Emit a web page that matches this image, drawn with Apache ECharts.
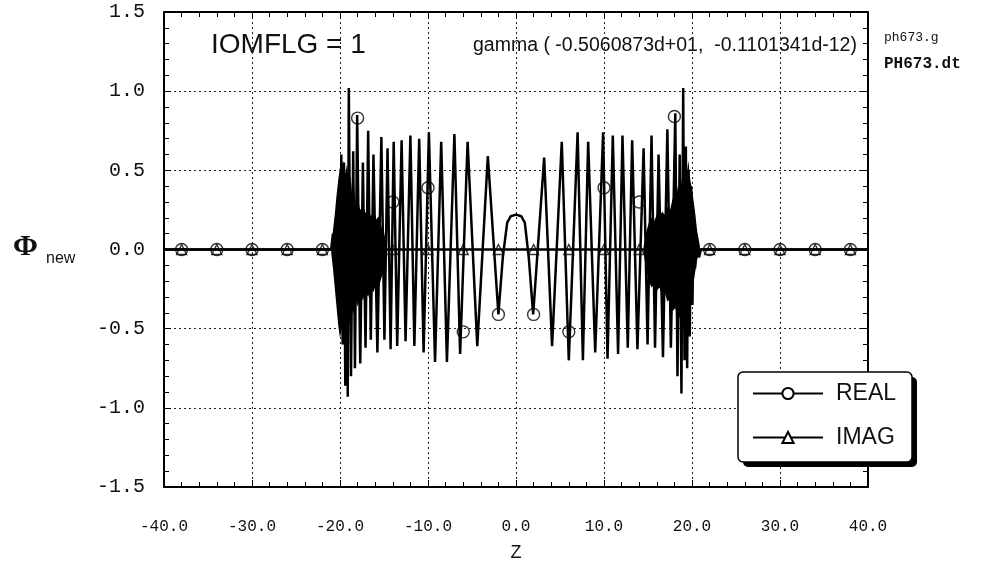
<!DOCTYPE html>
<html><head><meta charset="utf-8">
<script src="https://cdn.jsdelivr.net/npm/echarts@6/dist/echarts.min.js"></script>
<style>html,body{margin:0;padding:0;background:#fff}#c{width:1000px;height:568px}</style>
</head><body><div id="c"></div>
<script>
// ---- axis ticks ----
const xTicks = [-40, -30, -20, -10, 0, 10, 20, 30, 40];
const yTicks = [-1.5, -1.0, -0.5, 0.0, 0.5, 1.0, 1.5];

// ---- REAL curve (z, value) ----
const realZ = [-40, -21.0, -20.8, -20.6, -20.45, -20.3, -20.15, -20.0, -19.85, -19.7, -19.55, -19.4, -19.25, -19.12, -19.0,
  -18.75, -18.5, -18.3, -18.05, -17.7, -17.4, -17.1, -16.8, -16.5, -16.2, -15.75, -15.3, -14.95, -14.6, -14.25,
  -13.9, -13.5, -13.0, -12.55, -12.0, -11.55, -11.0, -10.5, -9.9, -9.2, -8.5, -7.85, -7.0, -6.35, -5.5, -4.4,
  -3.2, -2.0, -1.5, -1.0, -0.6, 0.0, 0.6, 1.0, 1.45, 1.95, 3.2, 4.1, 5.2, 6.0, 7.0, 7.6, 8.2, 9.0, 9.9, 10.4,
  11.0, 11.6, 12.1, 12.7, 13.2, 13.8, 14.5, 14.95, 15.4, 15.8, 16.2, 16.7, 17.2, 17.6, 18.1, 18.35, 18.6, 18.8,
  19.0, 19.15, 19.3, 19.45, 19.6, 19.75, 19.9, 20.05, 20.2, 20.35, 20.5, 20.8, 21.0, 40];
const realV = [0.0, 0.0, 0.1, -0.12, 0.2, -0.3, 0.35, -0.45, 0.6, -0.6, 0.55, -0.86, 0.45, -0.93, 1.02,
  -0.8, 0.62, -0.75, 0.85, -0.72, 0.55, -0.62, 0.75, -0.57, 0.6, -0.65, 0.71, -0.57, 0.64, -0.63,
  0.68, -0.61, 0.69, -0.58, 0.72, -0.61, 0.70, -0.65, 0.74, -0.71, 0.68, -0.71, 0.73, -0.66, 0.68, -0.61,
  0.59, -0.41, -0.05, 0.17, 0.21, 0.22, 0.21, 0.17, -0.05, -0.41, 0.58, -0.61, 0.68, -0.70, 0.74, -0.70, 0.68, -0.65, 0.74, -0.69,
  0.72, -0.66, 0.72, -0.62, 0.69, -0.63, 0.64, -0.6, 0.72, -0.62, 0.6, -0.68, 0.76, -0.62, 0.86, -0.8, 0.6, -0.91,
  1.02, -0.7, 0.65, -0.75, 0.5, -0.55, 0.4, -0.35, 0.25, -0.12, 0.1, -0.05, 0.0, 0.0];

// ---- IMAG curve ----
const imagZ = [-40, 40];
const imagV = [0.0, 0.0];

// ---- marker positions ----
const markerZ = [-38, -34, -30, -26, -22, -18, -14, -10, -6, -2, 2, 6, 10, 14, 18, 22, 26, 30, 34, 38];
const realMarkV = [0, 0, 0, 0, 0, 0.83, 0.30, 0.39, -0.52, -0.41, -0.41, -0.52, 0.39, 0.30, 0.84, 0, 0, 0, 0, 0];
const imagMarkV = [0, 0, 0, 0, 0, 0, 0, 0, 0, 0, 0, 0, 0, 0, 0, 0, 0, 0, 0, 0];

// ---- envelopes of the unresolved fast oscillation (solid black zones) ----
const bandLZ  = [-21.0, -20.8, -20.6, -20.4, -20.2, -20.0, -19.8, -19.6, -19.4, -19.2, -19.0, -18.8, -18.6, -18.4, -18.2,
  -18.0, -17.7, -17.4, -17.1, -16.8, -16.5, -16.2, -15.9, -15.6, -15.3, -15.0, -14.7];
const bandLUp = [0.02, 0.12, 0.22, 0.34, 0.44, 0.52, 0.46, 0.56, 0.48, 0.54, 0.42, 0.46, 0.34, 0.38, 0.28,
  0.32, 0.25, 0.28, 0.23, 0.26, 0.21, 0.24, 0.19, 0.21, 0.15, 0.11, 0.02];
const bandLLo = [-0.02, -0.12, -0.24, -0.36, -0.48, -0.56, -0.50, -0.58, -0.50, -0.55, -0.45, -0.48, -0.38, -0.41, -0.32,
  -0.36, -0.29, -0.32, -0.27, -0.30, -0.25, -0.27, -0.22, -0.24, -0.18, -0.13, -0.02];
const bandRZ  = [14.5, 14.8, 15.1, 15.4, 15.7, 16.0, 16.3, 16.6, 16.9, 17.2, 17.5, 17.8, 18.1, 18.4, 18.7,
  19.0, 19.2, 19.4, 19.6, 19.8, 20.0, 20.2, 20.4, 20.6, 20.9];
const bandRUp = [0.02, 0.11, 0.17, 0.20, 0.18, 0.22, 0.20, 0.24, 0.22, 0.27, 0.25, 0.32, 0.30, 0.40, 0.38,
  0.50, 0.55, 0.48, 0.56, 0.44, 0.38, 0.30, 0.21, 0.11, 0.02];
const bandRLo = [-0.02, -0.13, -0.20, -0.24, -0.22, -0.26, -0.24, -0.29, -0.27, -0.33, -0.31, -0.39, -0.37, -0.44, -0.42,
  -0.50, -0.46, -0.42, -0.38, -0.34, -0.28, -0.20, -0.13, -0.06, -0.02];

const zip = (a, b) => a.map((v, i) => [v, b[i]]);

function bandSeries(zs, up, lo) {
  return {
    type: 'custom', coordinateSystem: 'cartesian2d', silent: true, z: 2,
    data: [[zs[0], up[0]]],
    renderItem: function (params, api) {
      const pts = [];
      for (let i = 0; i < zs.length; i++) pts.push(api.coord([zs[i], up[i]]));
      for (let i = zs.length - 1; i >= 0; i--) pts.push(api.coord([zs[i], lo[i]]));
      return { type: 'polygon', shape: { points: pts }, style: { fill: '#000' } };
    }
  };
}

const monoFont = '"Liberation Mono", "DejaVu Sans Mono", monospace';
const sansFont = '"Liberation Sans", Arial, sans-serif';
const splitStyle = { show: true, lineStyle: { color: '#222', width: 1, type: [2, 3] } };
const tickCfg = { show: true, inside: true, length: 7, lineStyle: { color: '#000', width: 1 } };
const minorCfg = { show: true, splitNumber: 5, length: 5, lineStyle: { color: '#000', width: 1 } };
const lineCfg = { show: true, onZero: false, lineStyle: { color: '#000', width: 2 } };

const chart = echarts.init(document.getElementById('c'), null, { renderer: 'canvas' });
chart.setOption({
  animation: false,
  backgroundColor: '#fff',
  grid: { left: 164, right: 132, top: 12, bottom: 81, containLabel: false },
  xAxis: [{
    type: 'value', min: xTicks[0], max: xTicks[xTicks.length - 1], interval: xTicks[1] - xTicks[0],
    position: 'bottom', axisLine: lineCfg, axisTick: tickCfg, minorTick: minorCfg,
    axisLabel: { margin: 32, fontFamily: monoFont, fontSize: 16, color: '#111', formatter: v => v.toFixed(1) },
    splitLine: splitStyle,
    name: 'Z', nameLocation: 'middle', nameGap: 57,
    nameTextStyle: { fontFamily: sansFont, fontSize: 18, color: '#111' }
  }, {
    type: 'value', min: xTicks[0], max: xTicks[xTicks.length - 1], interval: xTicks[1] - xTicks[0],
    position: 'top', axisLine: lineCfg, axisTick: tickCfg, minorTick: minorCfg,
    axisLabel: { show: false }, splitLine: { show: false }
  }],
  yAxis: [{
    type: 'value', min: yTicks[0], max: yTicks[yTicks.length - 1], interval: yTicks[1] - yTicks[0],
    position: 'left', axisLine: lineCfg, axisTick: tickCfg, minorTick: minorCfg,
    axisLabel: { margin: 19, fontFamily: monoFont, fontSize: 20, color: '#111', formatter: v => v.toFixed(1) },
    splitLine: splitStyle
  }, {
    type: 'value', min: yTicks[0], max: yTicks[yTicks.length - 1], interval: yTicks[1] - yTicks[0],
    position: 'right', axisLine: lineCfg, axisTick: tickCfg, minorTick: minorCfg,
    axisLabel: { show: false }, splitLine: { show: false }
  }],
  legend: {
    data: ['REAL', 'IMAG'], orient: 'vertical', left: 752, top: 382, z: 60,
    itemWidth: 70, itemHeight: 14, itemGap: 21, padding: 0,
    textStyle: { fontFamily: sansFont, fontSize: 23, color: '#111', padding: [0, 0, 0, 8] },
    selectedMode: false
  },
  graphic: [
    { type: 'rect', z: 50, shape: { x: 743, y: 377, width: 174, height: 90, r: 5 }, style: { fill: '#000' } },
    { type: 'rect', z: 51, shape: { x: 738, y: 372, width: 174, height: 90, r: 5 }, style: { fill: '#fff', stroke: '#000', lineWidth: 1.5 } },
    { type: 'text', x: 211, y: 45, style: { text: 'IOMFLG = 1', font: '28px "Liberation Sans"', fill: '#111', verticalAlign: 'middle' } },
    { type: 'text', x: 473, y: 46, style: { text: 'gamma ( -0.5060873d+01,  -0.1101341d-12)', font: '19.5px "Liberation Sans"', fill: '#111', verticalAlign: 'middle' } },
    { type: 'text', x: 884, y: 38, style: { text: 'ph673.g', font: '13px "Liberation Mono"', fill: '#111', verticalAlign: 'middle' } },
    { type: 'text', x: 884, y: 64, style: { text: 'PH673.dt', font: 'bold 16px "Liberation Mono"', fill: '#111', verticalAlign: 'middle' } },
    { type: 'text', x: 13, y: 247, style: { text: 'Φ', font: 'bold 30px "Liberation Serif"', fill: '#111', verticalAlign: 'middle' } },
    { type: 'text', x: 46, y: 259, style: { text: 'new', font: '16px "Liberation Sans"', fill: '#111', verticalAlign: 'middle' } }
  ],
  series: [
    bandSeries(bandLZ, bandLUp, bandLLo),
    bandSeries(bandRZ, bandRUp, bandRLo),
    {
      name: 'REAL', type: 'line', data: zip(realZ, realV), showSymbol: false,
      symbol: 'emptyCircle', symbolSize: 11, z: 3,
      lineStyle: { color: '#000', width: 2.5 }, itemStyle: { color: '#000' }
    },
    {
      name: 'IMAG', type: 'line', data: zip(imagZ, imagV), showSymbol: false,
      symbol: 'emptyTriangle', symbolSize: 11, z: 3,
      lineStyle: { color: '#000', width: 2.6 }, itemStyle: { color: '#000' }
    },
    {
      name: 'REAL markers', type: 'scatter', data: zip(markerZ, realMarkV), symbol: 'circle', symbolSize: 12, z: 4,
      itemStyle: { color: 'rgba(0,0,0,0)', borderColor: '#000', borderWidth: 1.4 }, silent: true
    },
    {
      name: 'IMAG markers', type: 'scatter', data: zip(markerZ, imagMarkV), symbol: 'triangle', symbolSize: 10, z: 4,
      itemStyle: { color: 'rgba(0,0,0,0)', borderColor: '#000', borderWidth: 1.4 }, silent: true
    }
  ]
});
</script>
</body></html>
